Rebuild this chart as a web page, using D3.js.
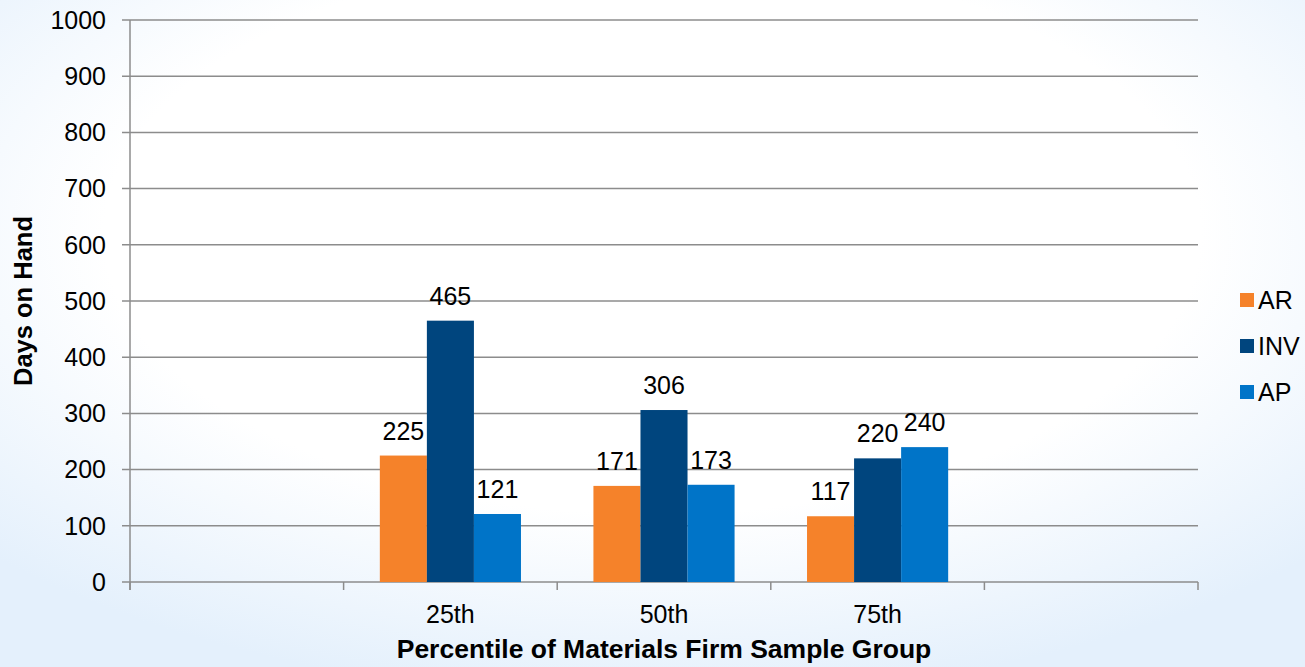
<!DOCTYPE html>
<html>
<head>
<meta charset="utf-8">
<script src="https://cdn.jsdelivr.net/npm/d3@7"></script>
<style>
	body { margin: 0; }
	svg { display: block; font-family: "Liberation Sans", Arial, sans-serif; }
</style>
</head>
<body>
<div id="chart"></div>
<script>
	var categories = ['', '25th', '50th', '75th', ' '];
	var seriesNames = ['AR', 'INV', 'AP'];
	var colors = ['#f5822a', '#00457e', '#0074c8'];
	var arValues = [null, 225, 171, 117, null];
	var invValues = [null, 465, 306, 220, null];
	var apValues = [null, 121, 173, 240, null];
	var yTicks = [0, 100, 200, 300, 400, 500, 600, 700, 800, 900, 1000];

	var width = 1305, height = 667;
	var margin = { left: 130, right: 107, top: 20, bottom: 85 };
	var series = [arValues, invValues, apValues];

	var svg = d3.select('#chart').append('svg')
		.attr('width', width)
		.attr('height', height);

	var defs = svg.append('defs');
	var grad = defs.append('radialGradient')
		.attr('id', 'bg')
		.attr('cx', '50%').attr('cy', '35%').attr('r', '70%');
	grad.append('stop').attr('offset', '0%').attr('stop-color', '#ffffff');
	grad.append('stop').attr('offset', '60%').attr('stop-color', '#ffffff');
	grad.append('stop').attr('offset', '100%').attr('stop-color', '#e4f0fc');
	svg.append('rect')
		.attr('width', width).attr('height', height)
		.attr('fill', 'url(#bg)');

	var x = d3.scaleBand()
		.domain(categories)
		.range([margin.left, width - margin.right]);
	var xInner = d3.scaleBand()
		.domain(seriesNames)
		.range([0, x.bandwidth()])
		.paddingOuter(0.77);
	var y = d3.scaleLinear()
		.domain([0, 1000])
		.range([height - margin.bottom, margin.top]);

	// gridlines
	svg.append('g')
		.selectAll('line')
		.data(yTicks)
		.enter().append('line')
		.attr('x1', margin.left - 8)
		.attr('x2', width - margin.right)
		.attr('y1', function(d){ return y(d); })
		.attr('y2', function(d){ return y(d); })
		.attr('stroke', '#8c8c8c')
		.attr('stroke-width', 1.5);

	// y axis labels
	svg.append('g')
		.selectAll('text')
		.data(yTicks)
		.enter().append('text')
		.attr('x', margin.left - 24)
		.attr('y', function(d){ return y(d); })
		.attr('dy', '0.35em')
		.attr('text-anchor', 'end')
		.style('font-size', '25px')
		.style('fill', '#000')
		.text(function(d){ return d; });

	// y axis line
	svg.append('line')
		.attr('x1', margin.left).attr('x2', margin.left)
		.attr('y1', y(1000)).attr('y2', y(0) + 8)
		.attr('stroke', '#8c8c8c').attr('stroke-width', 1.5);

	// x tick marks at band edges
	var edges = categories.map(function(c){ return x(c); }).concat([x(categories[categories.length - 1]) + x.bandwidth()]);
	svg.append('g')
		.selectAll('line')
		.data(edges)
		.enter().append('line')
		.attr('x1', function(d){ return d; })
		.attr('x2', function(d){ return d; })
		.attr('y1', y(0))
		.attr('y2', y(0) + 8)
		.attr('stroke', '#8c8c8c')
		.attr('stroke-width', 1.5);

	// x labels
	svg.append('g')
		.selectAll('text')
		.data(categories)
		.enter().append('text')
		.attr('x', function(d){ return x(d) + x.bandwidth() / 2; })
		.attr('y', 623)
		.attr('text-anchor', 'middle')
		.style('font-size', '25px')
		.text(function(d){ return d.trim(); });

	// bars
	series.forEach(function(vals, si) {
		var pts = categories.map(function(c, i){ return { cat: c, v: vals[i] }; })
			.filter(function(d){ return d.v != null; });
		var g = svg.append('g');
		g.selectAll('rect')
			.data(pts)
			.enter().append('rect')
			.attr('x', function(d){ return x(d.cat) + xInner(seriesNames[si]); })
			.attr('width', xInner.bandwidth())
			.attr('y', function(d){ return y(d.v); })
			.attr('height', function(d){ return y(0) - y(d.v); })
			.attr('fill', colors[si]);
		g.selectAll('text')
			.data(pts)
			.enter().append('text')
			.attr('x', function(d){ return x(d.cat) + xInner(seriesNames[si]) + xInner.bandwidth() / 2; })
			.attr('y', function(d){ return y(d.v) - 16; })
			.attr('text-anchor', 'middle')
			.style('font-size', '25px')
			.text(function(d){ return d.v; });
	});

	// axis titles
	svg.append('text')
		.attr('x', (margin.left + width - margin.right) / 2)
		.attr('y', 658)
		.attr('text-anchor', 'middle')
		.style('font-size', '26.5px')
		.style('font-weight', 'bold')
		.text('Percentile of Materials Firm Sample Group');
	svg.append('text')
		.attr('transform', 'translate(32,' + y(500) + ') rotate(-90)')
		.attr('text-anchor', 'middle')
		.style('font-size', '25.5px')
		.style('font-weight', 'bold')
		.text('Days on Hand');

	// legend
	var legend = svg.append('g')
		.selectAll('g')
		.data(seriesNames)
		.enter().append('g')
		.attr('transform', function(d, i){ return 'translate(1240,' + (300 + i * 46) + ')'; });
	legend.append('rect')
		.attr('x', 0).attr('y', -7)
		.attr('width', 14).attr('height', 14)
		.attr('fill', function(d, i){ return colors[i]; });
	legend.append('text')
		.attr('x', 18)
		.attr('dy', '0.35em')
		.style('font-size', '25px')
		.text(function(d){ return d; });
</script>
</body>
</html>
